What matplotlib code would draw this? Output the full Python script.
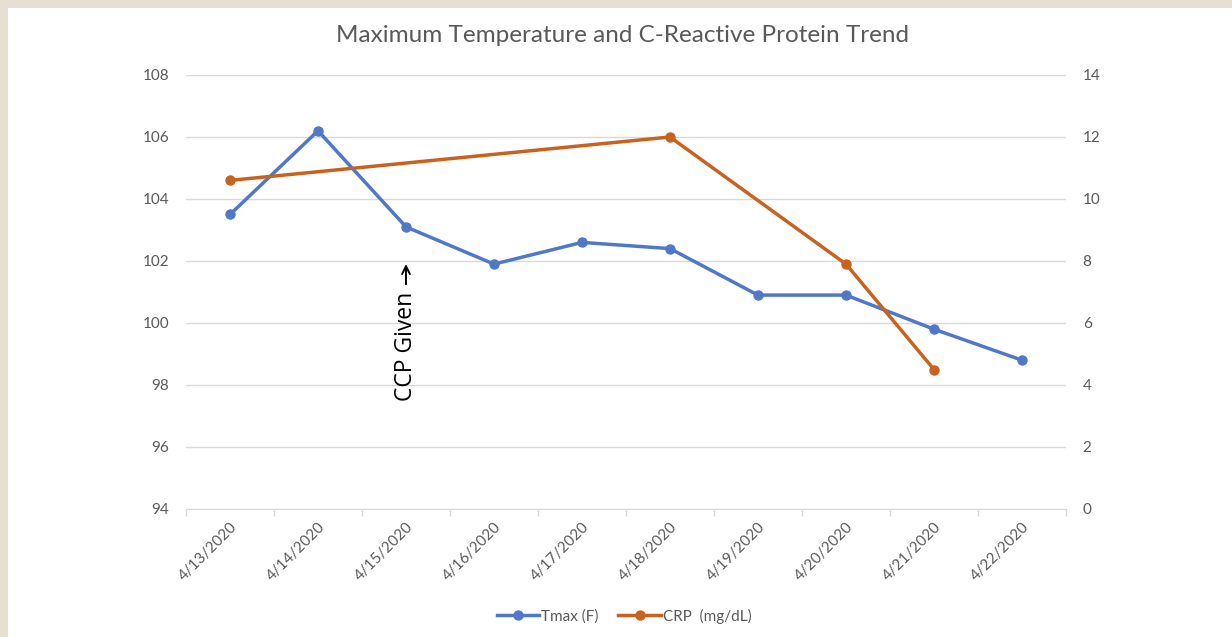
import matplotlib
matplotlib.use('Agg')
import matplotlib.pyplot as plt
import numpy as np

# Data
dates = ['4/13/2020', '4/14/2020', '4/15/2020', '4/16/2020', '4/17/2020',
         '4/18/2020', '4/19/2020', '4/20/2020', '4/21/2020', '4/22/2020']
tmax = [103.5, 106.2, 103.1, 101.9, 102.6, 102.4, 100.9, 100.9, 99.8, 98.8]
crp = [10.6, None, None, None, None, 12.0, None, 7.9, 4.5, None]

blue = '#4F78C9'
orange = '#C8621F'
grey = '#595959'
grid = '#D9D9D9'

plt.rcParams['font.family'] = ['Lato', 'DejaVu Sans']

fig = plt.figure(figsize=(12.32, 6.37), dpi=100)
fig.patch.set_facecolor('#E6E0D4')
# white chart area inside beige frame (top and left border)
bg = fig.add_axes([8 / 1232, 0, 1 - 8 / 1232, 1 - 8 / 637])
bg.set_facecolor('white')
bg.set_xticks([])
bg.set_yticks([])
for s in bg.spines.values():
    s.set_visible(False)

ax = fig.add_axes([186 / 1232, 1 - 509 / 637, 880 / 1232, 434 / 637])
ax.set_facecolor('none')
ax2 = ax.twinx()

x = np.arange(len(dates))
ax.set_xlim(-0.5, len(dates) - 0.5)
ax.set_ylim(94, 108)
ax.set_yticks(np.arange(94, 109, 2))
ax2.set_ylim(0, 14)
ax2.set_yticks(np.arange(0, 15, 2))

ax.grid(axis='y', color=grid, linewidth=1)
ax.set_axisbelow(True)

l1, = ax.plot(x, tmax, color=blue, linewidth=2.5, marker='o', markersize=6.5,
              label='Tmax (F)', zorder=3)
cx = [i for i, v in enumerate(crp) if v is not None]
cy = [v for v in crp if v is not None]
l2, = ax2.plot(cx, cy, color=orange, linewidth=2.5, marker='o', markersize=6.5,
               label='CRP  (mg/dL)', zorder=3)

# x axis: category ticks between the points
ax.set_xticks(x)
ax.set_xticklabels(dates, rotation=45, ha='right', rotation_mode='anchor',
                   color=grey, fontsize=11)
ax.set_xticks(np.arange(-0.5, len(dates)), minor=True)
ax.tick_params(axis='x', which='major', length=0, pad=8)
ax.tick_params(axis='x', which='minor', length=5, color=grid, width=1)
ax.tick_params(axis='y', length=0, labelcolor=grey, labelsize=11, pad=12)
ax2.tick_params(axis='y', length=0, labelcolor=grey, labelsize=11, pad=12)

for a in (ax, ax2):
    for s in a.spines.values():
        s.set_visible(False)
ax.spines['bottom'].set_visible(True)
ax.spines['bottom'].set_color(grid)

# annotation text plus a drawn arrow pointing up
ax.text(2.0, 99.25, 'CCP Given', rotation=90, fontsize=16.5,
        color='black', ha='center', va='center', family=['Open Sans'])
ax.annotate('', xy=(2.0, 101.9), xytext=(2.0, 101.25),
            arrowprops=dict(arrowstyle='->', color='black', lw=1.4,
                            mutation_scale=14, shrinkA=0, shrinkB=0))

fig.text(622 / 1232, 1 - 36 / 637,
         'Maximum Temperature and C-Reactive Protein Trend',
         ha='center', va='center', fontsize=17.5, color=grey)

fig.legend(handles=[l1, l2], loc='center', bbox_to_anchor=(624 / 1232, 1 - 616 / 637),
           ncol=2, frameon=False, fontsize=11, labelcolor=grey,
           handlelength=2.8, handletextpad=0.1, columnspacing=1.3)

fig.savefig('out.png', dpi=100)
